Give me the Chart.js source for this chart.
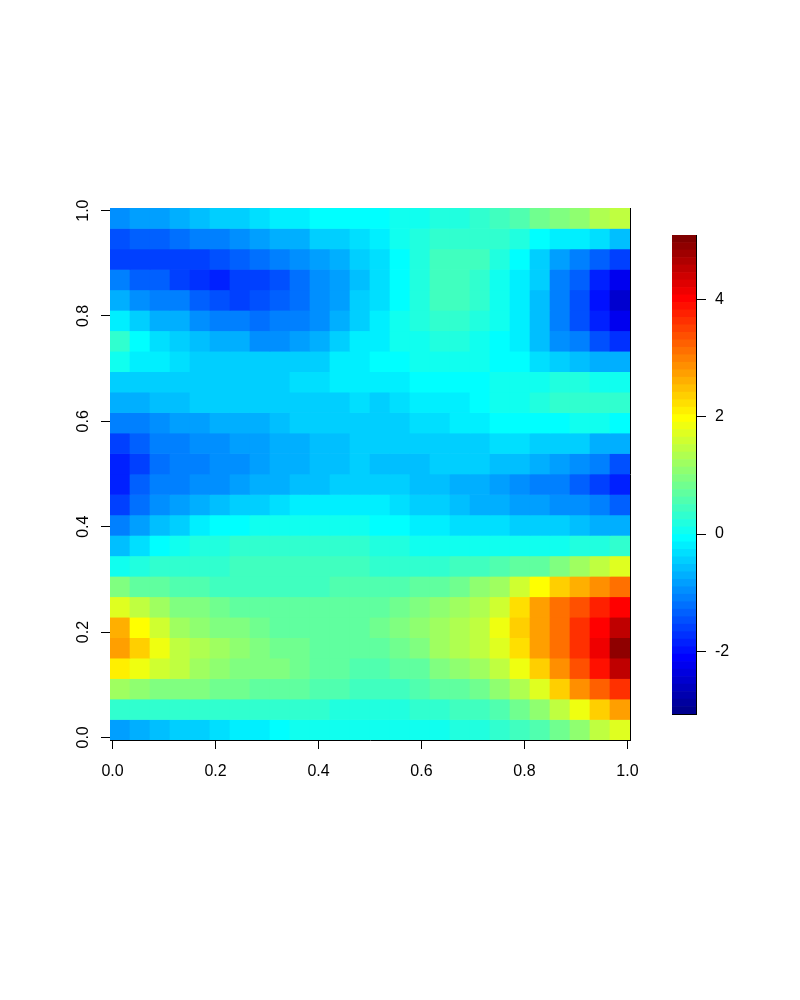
<!DOCTYPE html>
<html>
<head>
<meta charset="utf-8">
<title>Heatmap</title>
<script src="https://cdn.jsdelivr.net/npm/chart.js@4"></script>
<style>
    html, body { margin: 0; padding: 0; background: #fff; }
    #wrap { position: relative; width: 800px; height: 1000px; }
    canvas { position: absolute; left: 0; top: 0; }
</style>
</head>
<body>
<div id="wrap">
    <canvas id="chartMapa" width="800" height="1000"></canvas>
    <canvas id="chartEscala" width="800" height="1000"></canvas>
</div>
<script>
// Values, top row first, left to right
const zValues = [
    [-.95,-.85,-.8,-.7,-.6,-.5,-.45,-.3,-.25,-.2,-.1,-.1,-.1,-.05,.05,.1,.15,.2,.25,.4,.6,.8,.95,1.1,1.3,1.5],
    [-1.45,-1.4,-1.35,-1.25,-1.15,-1.05,-.95,-.85,-.75,-.65,-.5,-.4,-.3,-.15,0,.15,.25,.35,.35,.3,.15,-.05,-.2,-.25,-.35,-.55],
    [-1.55,-1.6,-1.65,-1.65,-1.55,-1.45,-1.35,-1.2,-1.1,-.95,-.85,-.7,-.5,-.3,-.05,.15,.4,.45,.4,.15,-.1,-.4,-.85,-1.05,-1.35,-1.65],
    [-1.1,-1.3,-1.4,-1.55,-1.75,-1.8,-1.65,-1.6,-1.45,-1.25,-1,-.85,-.6,-.3,-.05,.2,.45,.45,.35,.1,-.15,-.5,-1.1,-1.4,-1.85,-2.2],
    [-.65,-.9,-1.05,-1.15,-1.3,-1.45,-1.55,-1.5,-1.35,-1.2,-1,-.85,-.5,-.3,-.05,.2,.45,.4,.3,.1,-.15,-.55,-1.15,-1.5,-2,-2.55],
    [-.2,-.45,-.65,-.75,-.9,-1.05,-1.15,-1.2,-1.15,-1.05,-.9,-.75,-.45,-.25,0,.15,.25,.25,.2,.05,-.2,-.55,-1.1,-1.45,-1.9,-2.2],
    [.3,-.1,-.3,-.45,-.6,-.7,-.75,-.9,-.9,-.8,-.65,-.5,-.25,-.15,0,.1,.2,.15,.1,-.05,-.25,-.55,-.9,-1.15,-1.45,-1.7],
    [0,-.15,-.25,-.3,-.4,-.45,-.45,-.5,-.5,-.45,-.4,-.25,-.2,-.1,-.05,0,.05,.05,0,-.05,-.1,-.3,-.45,-.55,-.65,-.75],
    [-.4,-.4,-.4,-.4,-.4,-.4,-.4,-.4,-.4,-.35,-.3,-.25,-.2,-.25,-.15,-.05,-.05,-.05,-.05,.05,.1,.1,.15,.15,.1,0],
    [-.7,-.65,-.6,-.6,-.5,-.5,-.5,-.5,-.45,-.4,-.4,-.4,-.3,-.4,-.35,-.25,-.2,-.15,-.05,0,.1,.15,.25,.25,.3,.35],
    [-1.15,-1.05,-.9,-.85,-.8,-.7,-.7,-.65,-.6,-.5,-.5,-.45,-.4,-.45,-.4,-.35,-.3,-.25,-.2,-.1,-.05,-.05,-.05,0,0,-.05],
    [-1.55,-1.35,-1.15,-1.05,-.95,-.9,-.85,-.8,-.7,-.65,-.6,-.6,-.5,-.5,-.5,-.45,-.45,-.4,-.4,-.35,-.35,-.4,-.45,-.5,-.65,-.75],
    [-1.8,-1.55,-1.2,-1.1,-1.05,-1,-.9,-.85,-.7,-.65,-.6,-.6,-.5,-.55,-.55,-.55,-.5,-.5,-.5,-.55,-.6,-.75,-.85,-1,-1.15,-1.45],
    [-1.85,-1.4,-1.15,-1.05,-.95,-.9,-.85,-.75,-.65,-.6,-.55,-.5,-.45,-.45,-.5,-.55,-.6,-.7,-.75,-.85,-.95,-1.05,-1.15,-1.3,-1.55,-1.8],
    [-1.65,-1.2,-.95,-.8,-.65,-.6,-.45,-.4,-.3,-.25,-.2,-.2,-.25,-.2,-.35,-.45,-.5,-.6,-.65,-.7,-.8,-.85,-.9,-1,-1.1,-1.35],
    [-1.15,-.85,-.6,-.4,-.25,-.1,-.05,.05,.05,.1,.1,.1,0,-.05,-.05,-.15,-.25,-.3,-.35,-.35,-.45,-.5,-.5,-.55,-.65,-.75],
    [-.55,-.3,-.05,.05,.15,.2,.25,.25,.3,.3,.3,.25,.25,.2,.15,.1,.1,.1,.05,.05,.05,.05,.1,.15,.2,.25],
    [.1,.2,.25,.3,.35,.35,.4,.4,.4,.4,.4,.4,.4,.35,.35,.35,.35,.4,.45,.55,.65,.75,.95,1.2,1.45,1.7],
    [.95,.75,.65,.6,.55,.5,.45,.5,.5,.5,.5,.55,.6,.55,.6,.65,.7,.85,1.05,1.25,1.55,1.95,2.3,2.55,2.85,3.1],
    [1.75,1.45,1.2,1,.9,.8,.75,.7,.65,.65,.7,.7,.75,.75,.85,.95,1.05,1.15,1.3,1.6,2.2,2.7,3.1,3.4,3.7,4],
    [2.55,2,1.55,1.25,1.1,.95,.9,.8,.75,.75,.75,.75,.75,.85,.95,1.1,1.25,1.35,1.5,1.9,2.4,2.75,3.15,3.6,4,4.55],
    [2.7,2.35,1.85,1.5,1.3,1.15,1.05,.95,.85,.8,.75,.75,.75,.75,.85,1,1.15,1.3,1.5,1.75,2.25,2.8,3.15,3.6,4.1,4.95],
    [2.15,1.85,1.6,1.4,1.25,1.1,1,.95,.9,.8,.7,.7,.6,.6,.65,.75,.9,1.05,1.25,1.45,1.8,2.4,2.85,3.4,3.95,4.5],
    [1.2,1.05,1,.95,.9,.85,.8,.75,.7,.65,.6,.55,.5,.45,.5,.55,.65,.75,.85,1.05,1.3,1.7,2.3,2.9,3.3,3.6],
    [.3,.35,.35,.35,.35,.35,.35,.35,.3,.3,.25,.2,.15,.15,.2,.3,.35,.4,.5,.6,.8,1.05,1.4,1.85,2.3,2.7],
    [-.8,-.65,-.6,-.45,-.4,-.3,-.2,-.15,-.05,0,0,0,0,0,0,.05,.1,.15,.2,.25,.4,.6,.8,1.1,1.4,1.7]
];

const xTicks = [0, 0.2, 0.4, 0.6, 0.8, 1];
const yTicks = [0, 0.2, 0.4, 0.6, 0.8, 1];
const scaleTicks = [-2, 0, 2, 4];
const xRange = [-0.005, 1.005];
const yRange = [-0.005, 1.005];
const zRange = [-3.07, 5.1];

const palette = [
    '#00008F','#00009F','#0000AF','#0000BF','#0000CF','#0000DF','#0000EF','#0000FF',
    '#0010FF','#0020FF','#0030FF','#0040FF','#0050FF','#0060FF','#0070FF','#0080FF',
    '#008FFF','#009FFF','#00AFFF','#00BFFF','#00CFFF','#00DFFF','#00EFFF','#00FFFF',
    '#10FFEF','#20FFDF','#30FFCF','#40FFBF','#50FFAF','#60FF9F','#70FF8F','#80FF80',
    '#8FFF70','#9FFF60','#AFFF50','#BFFF40','#CFFF30','#DFFF20','#EFFF10','#FFFF00',
    '#FFEF00','#FFDF00','#FFCF00','#FFBF00','#FFAF00','#FF9F00','#FF8F00','#FF8000',
    '#FF7000','#FF6000','#FF5000','#FF4000','#FF3000','#FF2000','#FF1000','#FF0000',
    '#EF0000','#DF0000','#CF0000','#BF0000','#AF0000','#9F0000','#8F0000','#800000'
];

const fuente = { family: '"Liberation Sans", Arial, sans-serif', size: 16 };

function colorDe(z) {
    const i = Math.floor((z - zRange[0]) / (zRange[1] - zRange[0]) * palette.length);
    return palette[Math.max(0, Math.min(palette.length - 1, i))];
}

function fixedTicks(values) {
    return (scale) => { scale.ticks = values.map(v => ({ value: v })); };
}

function fixedSize(prop, size) {
    return (scale) => { scale[prop] = size; };
}

// Mapa
function renderMapa() {
    const rows = zValues.length;
    const cols = zValues[0].length;
    const dx = (xRange[1] - xRange[0]) / cols;
    const dy = (yRange[1] - yRange[0]) / rows;

    const datasets = zValues.map((fila, r) => ({
        data: fila.map((z, c) => ({
            x: xRange[0] + (c + 0.5) * dx,
            y: [yRange[1] - (r + 1) * dy, yRange[1] - r * dy]
        })),
        backgroundColor: fila.map(colorDe),
        borderWidth: 0,
        barPercentage: 1,
        categoryPercentage: 1,
        grouped: false
    }));

    new Chart(document.getElementById('chartMapa').getContext('2d'), {
        type: 'bar',
        data: { datasets },
        options: {
            responsive: false,
            animation: false,
            layout: { padding: { left: 0, top: 208, right: 170, bottom: 210 } },
            plugins: { legend: { display: false }, tooltip: { enabled: false } },
            scales: {
                x: {
                    type: 'linear',
                    position: 'bottom',
                    offset: false,
                    min: xRange[0],
                    max: xRange[1],
                    afterBuildTicks: fixedTicks(xTicks),
                    afterFit: fixedSize('height', 50),
                    border: { display: true, color: '#000', width: 1 },
                    grid: { offset: false, drawOnChartArea: false, drawTicks: true, tickLength: 9, color: '#000' },
                    ticks: { color: '#000', font: fuente, padding: 13, maxRotation: 0, autoSkip: false,
                        callback: v => v.toFixed(1) }
                },
                y: {
                    type: 'linear',
                    position: 'left',
                    min: yRange[0],
                    max: yRange[1],
                    afterBuildTicks: fixedTicks(yTicks),
                    afterFit: fixedSize('width', 110),
                    border: { display: false },
                    grid: { drawOnChartArea: false, drawTicks: true, tickLength: 9, color: '#000' },
                    ticks: { color: '#000', font: fuente, padding: 6, minRotation: 90, maxRotation: 90,
                        crossAlign: 'center', autoSkip: false, callback: v => v.toFixed(1) }
                },
                yDerecha: {
                    type: 'linear',
                    position: 'right',
                    min: yRange[0],
                    max: yRange[1],
                    afterFit: fixedSize('width', 0),
                    border: { display: true, color: '#000', width: 1 },
                    grid: { display: false },
                    ticks: { display: false }
                }
            }
        }
    });
}

// Barra de color
function renderEscala() {
    const paso = (zRange[1] - zRange[0]) / palette.length;
    const datasets = palette.map((color, i) => ({
        data: [[zRange[0] + i * paso, zRange[0] + (i + 1) * paso]],
        backgroundColor: color,
        borderWidth: 0,
        barPercentage: 1,
        categoryPercentage: 1,
        grouped: false
    }));

    new Chart(document.getElementById('chartEscala').getContext('2d'), {
        type: 'bar',
        data: { labels: [''], datasets },
        options: {
            responsive: false,
            animation: false,
            layout: { padding: { left: 672, top: 235, right: 0, bottom: 286 } },
            plugins: { legend: { display: false }, tooltip: { enabled: false } },
            scales: {
                x: {
                    afterFit: fixedSize('height', 0),
                    border: { display: true, color: '#000', width: 1 },
                    grid: { display: false },
                    ticks: { display: false }
                },
                y: {
                    type: 'linear',
                    position: 'right',
                    min: zRange[0],
                    max: zRange[1],
                    afterBuildTicks: fixedTicks(scaleTicks),
                    afterFit: fixedSize('width', 104),
                    border: { display: true, color: '#000', width: 1 },
                    grid: { drawOnChartArea: false, drawTicks: true, tickLength: 10, color: '#000' },
                    ticks: { color: '#000', font: fuente, padding: 9, autoSkip: false, callback: v => String(v) }
                }
            }
        }
    });
}

renderMapa();
renderEscala();
</script>
</body>
</html>
